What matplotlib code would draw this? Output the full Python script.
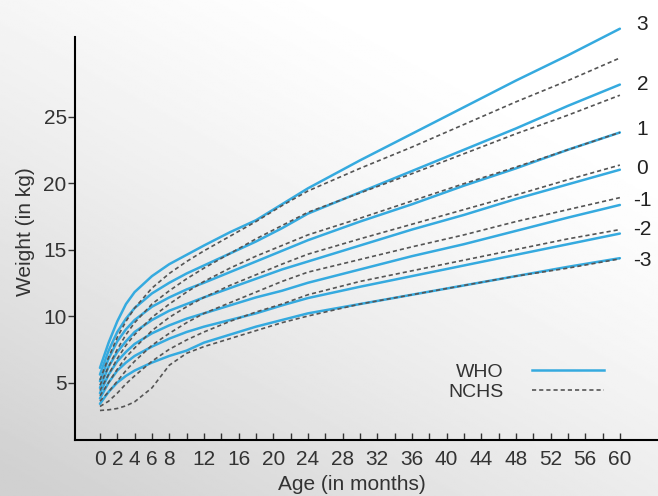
import numpy as np
import matplotlib.pyplot as plt

plt.rcParams['font.family'] = ['Liberation Sans', 'DejaVu Sans']

months = [0, 1, 2, 3, 4, 6, 8, 10, 12, 15, 18, 21, 24, 30, 36, 42, 48, 54, 60]

# WHO z-score curves (kg)
who = {
    3:  [6.1, 8.0, 9.6, 10.9, 11.8, 13.0, 13.9, 14.6, 15.3, 16.3, 17.2, 18.4, 19.6, 21.7, 23.7, 25.7, 27.7, 29.6, 31.6],
    2:  [5.6, 7.4, 8.8, 9.8, 10.6, 11.7, 12.5, 13.2, 13.8, 14.7, 15.6, 16.6, 17.7, 19.3, 20.9, 22.5, 24.1, 25.8, 27.4],
    1:  [5.1, 6.8, 8.1, 9.0, 9.7, 10.7, 11.4, 12.0, 12.5, 13.3, 14.1, 14.9, 15.7, 17.1, 18.4, 19.8, 21.1, 22.5, 23.8],
    0:  [4.6, 6.2, 7.3, 8.1, 8.8, 9.7, 10.4, 10.9, 11.4, 12.1, 12.8, 13.5, 14.1, 15.3, 16.5, 17.6, 18.8, 19.9, 21.0],
    -1: [4.2, 5.6, 6.6, 7.3, 7.9, 8.7, 9.3, 9.8, 10.2, 10.8, 11.4, 11.9, 12.5, 13.5, 14.5, 15.4, 16.4, 17.4, 18.35],
    -2: [3.8, 5.0, 5.9, 6.5, 7.0, 7.7, 8.3, 8.8, 9.2, 9.7, 10.2, 10.8, 11.35, 12.2, 13.0, 13.8, 14.6, 15.4, 16.2],
    -3: [3.4, 4.3, 5.0, 5.5, 5.9, 6.5, 7.0, 7.4, 8.0, 8.6, 9.2, 9.7, 10.2, 10.9, 11.6, 12.3, 13.0, 13.7, 14.35],
}

# NCHS z-score curves (kg)
nchs = {
    3:  [5.2, 6.9, 8.4, 9.6, 10.6, 12.1, 13.2, 14.1, 14.9, 16.0, 17.1, 18.3, 19.4, 21.1, 22.7, 24.4, 26.1, 27.7, 29.4],
    2:  [4.8, 6.2, 7.5, 8.6, 9.5, 10.9, 11.9, 12.8, 13.6, 14.7, 15.8, 16.8, 17.8, 19.25, 20.7, 22.2, 23.7, 25.1, 26.6],
    1:  [4.4, 5.6, 6.8, 7.8, 8.6, 9.9, 10.9, 11.8, 12.6, 13.6, 14.5, 15.3, 16.1, 17.35, 18.65, 19.95, 21.2, 22.5, 23.8],
    0:  [4.0, 5.0, 6.0, 6.9, 7.6, 8.9, 9.9, 10.7, 11.4, 12.3, 13.1, 13.9, 14.65, 15.8, 16.9, 18.0, 19.1, 20.25, 21.35],
    -1: [3.6, 4.3, 5.1, 5.9, 6.6, 7.8, 8.7, 9.5, 10.2, 11.0, 11.8, 12.6, 13.3, 14.25, 15.2, 16.1, 17.1, 18.0, 18.9],
    -2: [3.2, 3.6, 4.2, 4.9, 5.5, 6.6, 7.5, 8.2, 8.8, 9.6, 10.3, 10.9, 11.6, 12.6, 13.4, 14.2, 15.0, 15.8, 16.5],
    -3: [2.9, 2.95, 3.05, 3.25, 3.55, 4.6, 6.3, 7.2, 7.7, 8.3, 8.9, 9.5, 10.0, 10.9, 11.6, 12.3, 13.0, 13.6, 14.3],
}

# position of the z-score labels on the right (kg)
zlabel_y = {3: 31.9, 2: 27.4, 1: 24.0, 0: 21.1, -1: 18.7, -2: 16.5, -3: 14.2}

xtick_pos = list(range(0, 61, 2))
xtick_lab = [str(m) if (m <= 8 or m % 4 == 0) else "" for m in xtick_pos]
ytick_pos = [5, 10, 15, 20, 25]

fig = plt.figure(figsize=(6.58, 4.96), dpi=100)

# grey gradient background
bg = fig.add_axes([0, 0, 1, 1], zorder=-1)
gx, gy = np.meshgrid(np.linspace(0, 1, 300), np.linspace(0, 1, 300))
u = np.clip(0.55 * (1 - gx) + 0.75 * gy - 0.25, 0, 1)
bg.imshow(1 - 0.18 * u ** 1.3, cmap='gray', vmin=0, vmax=1, aspect='auto',
          extent=[0, 1, 0, 1], origin='upper')
bg.axis('off')

ax = fig.add_axes([75 / 658, 1 - 440 / 496, 1 - 75 / 658, (440 - 23.4) / 496])
ax.set_facecolor('none')

blue = '#35aadf'
dash = (0, (2.5, 1.8))
for z in who:
    ax.plot(months, who[z], color=blue, lw=1.8, solid_capstyle='round', zorder=2)
for z in nchs:
    ax.plot(months, nchs[z], color='#555555', lw=1.2, ls=dash, zorder=3)

for z, yv in zlabel_y.items():
    ax.text(62.6, yv, str(z), ha='center', va='center', fontsize=15, color='#222222')

ax.set_xlim(-2.88, 64.4)
ax.set_ylim(0.68, 32)

ax.spines['top'].set_visible(False)
ax.spines['right'].set_visible(False)
ax.spines['left'].set_bounds(0.68, 31.0)
ax.spines['left'].set_linewidth(1.5)
ax.spines['bottom'].set_linewidth(1.5)

ax.set_xticks(xtick_pos)
ax.set_xticklabels(xtick_lab)
ax.set_yticks(ytick_pos)
ax.tick_params(axis='x', direction='in', length=5, width=1, labelsize=15,
               colors='#333333', pad=7)
ax.tick_params(axis='y', direction='out', length=5, width=1, labelsize=15,
               colors='#333333', pad=1)

ax.set_xlabel("Age (in months)", fontsize=15, color='#333333')
ax.xaxis.set_label_coords((352 - 75) / 583, -0.083)
ax.set_ylabel("Weight (in kg)", fontsize=15, color='#333333', labelpad=6)

# legend with the label first and the line after it
h1, = ax.plot([], [], color=blue, lw=1.8)
h2, = ax.plot([], [], color='#555555', lw=1.2, ls=dash)
ax.legend([h1, h2], ["WHO", "NCHS"], markerfirst=False, frameon=False,
          fontsize=14, handlelength=3.7, handletextpad=1.5, labelspacing=0.15,
          borderpad=0, borderaxespad=0, loc='upper left',
          bbox_to_anchor=(448 / 658, 1 - 363 / 496), bbox_transform=fig.transFigure,
          labelcolor='#333333')

plt.savefig("out.png", dpi=100)
